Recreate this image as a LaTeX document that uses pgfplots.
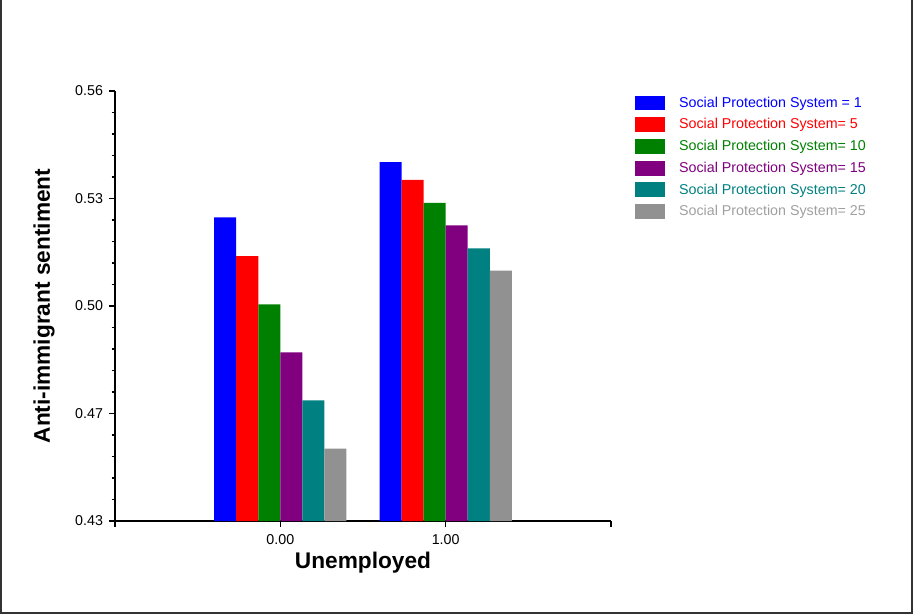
\documentclass[border=0pt]{standalone}
\usepackage{pgfplots}
\pgfplotsset{compat=1.18}
\usepackage{fontspec}
\setmainfont{Liberation Sans}
\definecolor{spgreen}{RGB}{0,128,0}
\definecolor{sppurple}{RGB}{128,0,128}
\definecolor{spteal}{RGB}{0,128,128}
\definecolor{spgray}{RGB}{145,145,145}
\definecolor{spgraytext}{RGB}{160,160,160}
\pgfplotsset{spleg/.style={legend image code/.code={\fill[##1] (0pt,-5.6pt) rectangle (22.5pt,5.6pt); \path[draw=none,fill=none] (0pt,-8.15pt) rectangle (33pt,8.15pt);}}}
\begin{document}
\begin{tikzpicture}
\useasboundingbox (-86.25pt,-69.75pt) rectangle (598.5pt,390.75pt);
\begin{axis}[
  at={(0,0)}, anchor=south west,
  scale only axis,
  width=372pt, height=322.5pt,
  xmin=-1, xmax=2,
  ymin=0.43, ymax=0.56,
  axis x line=bottom, axis y line=left,
  axis line style={-, line width=1.3pt, black},
  xtick={-1,0,1,2},
  xticklabels={,0.00,1.00,},
  ytick={0.43,0.4625,0.495,0.5275,0.56},
  yticklabels={0.43,0.47,0.50,0.53,0.56},
  minor y tick num=4,
  tick align=outside,
  major tick length=4.5pt,
  minor tick length=2.5pt,
  every tick/.style={black, line width=1.1pt},
  minor tick style={line width=0.9pt},
  tick label style={font=\fontsize{10.7}{12}\selectfont},
  /pgf/number format/assume math mode=true,
  xticklabel style={yshift=-2pt},
  yticklabel style={xshift=-1pt},
  xlabel={\textbf{Unemployed}},
  ylabel={\textbf{Anti-immigrant sentiment}},
  label style={font=\fontsize{17}{20}\selectfont},
  xlabel style={at={(axis description cs:0.5,0)}, anchor=center, yshift=-31.5pt},
  ylabel style={at={(axis description cs:-0.143,0.5)}, anchor=center, rotate=0},
  ybar, bar width=0.1333,
  clip=true,
  legend style={draw=none, fill=none, at={(1.048,0.998)}, anchor=north west,
    font=\fontsize{10.7}{12}\selectfont, row sep=0pt, inner sep=0pt,
    nodes={inner sep=0pt}},
  legend cell align=left,
]
\addplot[fill=blue, draw=none, bar shift=-0.3333, spleg] coordinates {(0,0.5218) (1,0.5385)};
\addlegendentry{\textcolor{blue}{Social Protection System = 1}}
\addplot[fill=red, draw=none, bar shift=-0.2, spleg] coordinates {(0,0.5101) (1,0.5331)};
\addlegendentry{\textcolor{red}{Social Protection System= 5}}
\addplot[fill=spgreen, draw=none, bar shift=-0.0667, spleg] coordinates {(0,0.4955) (1,0.5262)};
\addlegendentry{\textcolor{spgreen}{Social Protection System= 10}}
\addplot[fill=sppurple, draw=none, bar shift=0.0667, spleg] coordinates {(0,0.4810) (1,0.5194)};
\addlegendentry{\textcolor{sppurple}{Social Protection System= 15}}
\addplot[fill=spteal, draw=none, bar shift=0.2, spleg] coordinates {(0,0.4665) (1,0.5124)};
\addlegendentry{\textcolor{spteal}{Social Protection System= 20}}
\addplot[fill=spgray, draw=none, bar shift=0.3333, spleg] coordinates {(0,0.4519) (1,0.5057)};
\addlegendentry{\textcolor{spgraytext}{Social Protection System= 25}}
\end{axis}
\draw[line width=1.2pt, black!80] (-85.5pt,390.75pt) -- (-85.5pt,-69pt) -- (597.75pt,-69pt) -- (597.75pt,390.75pt);
\end{tikzpicture}
\end{document}
